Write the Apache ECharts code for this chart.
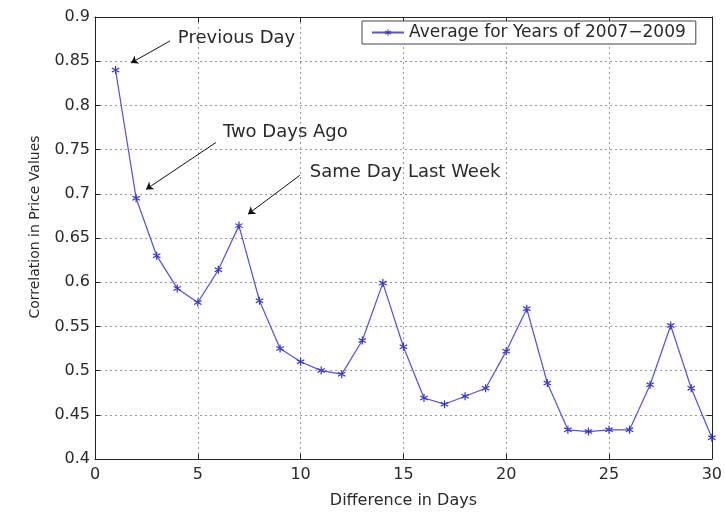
<!DOCTYPE html>
<html><head><meta charset="utf-8">
<script src="https://cdn.jsdelivr.net/npm/echarts@6/dist/echarts.min.js"></script>
<style>html,body{margin:0;padding:0;background:#fff}#c{width:725px;height:514px}</style>
</head><body><div id="c"></div>
<script>
const days = [1,2,3,4,5,6,7,8,9,10,11,12,13,14,15,16,17,18,19,20,21,22,23,24,25,26,27,28,29,30];
const corr = [0.840,0.695,0.630,0.593,0.577,0.614,0.664,0.579,0.525,0.510,0.500,0.496,0.534,0.599,0.527,0.469,0.462,0.471,0.480,0.522,0.570,0.486,0.433,0.431,0.433,0.433,0.484,0.551,0.480,0.424];
const yTicks = ['0.4','0.45','0.5','0.55','0.6','0.65','0.7','0.75','0.8','0.85','0.9'];
const xTicks = ['0','5','10','15','20','25','30'];
const seriesName = 'Average for Years of 2007\u22122009';
const annText = ['Previous Day','Two Days Ago','Same Day Last Week'];
const annTextPos = [[4.03,0.876],[6.22,0.770],[10.45,0.724]];
const annArrowFrom = [[3.65,0.873],[5.88,0.758],[9.97,0.721]];
const annArrowTo = [[1.75,0.848],[2.48,0.705],[7.44,0.677]];

const FONT = '"DejaVu Sans", sans-serif';
const blue = '#5252dc';
const star = 'path://M-0.7,-5L0.7,-5L0.7,5L-0.7,5Z M-4.68,-1.9L-3.98,-3.12L4.68,1.9L3.98,3.12Z M-4.68,1.9L-3.98,3.12L4.68,-1.9L3.98,-3.12Z';

const chart = echarts.init(document.getElementById('c'), null, {renderer:'canvas'});
const axisCommon = {
  axisLine:{show:true,onZero:false,lineStyle:{color:'#222',width:1}},
  axisTick:{show:true,inside:true,length:5,lineStyle:{color:'#222'}},
};
chart.setOption({
  animation:false,
  backgroundColor:'#fff',
  textStyle:{fontFamily:FONT},
  grid:{left:95,right:13,top:17,bottom:53},
  legend:{
    left:362, top:21, itemWidth:32, itemHeight:8, itemGap:5,
    padding:[3,10,3,9], borderColor:'#444', borderWidth:1, backgroundColor:'#fff',
    textStyle:{fontSize:17,color:'#2a2a2a',fontFamily:FONT},
    data:[{name:seriesName}]
  },
  xAxis:[{
    type:'value', min:0, max:30, interval:5, position:'bottom',
    name:'Difference in Days', nameLocation:'middle', nameGap:34,
    nameTextStyle:{fontSize:16,color:'#2a2a2a',fontFamily:FONT},
    ...axisCommon,
    axisLabel:{fontSize:16,color:'#2a2a2a',margin:8,fontFamily:FONT,formatter:(v)=>xTicks[v/5]},
    splitLine:{show:true,lineStyle:{color:'#999',type:[2,3],width:1}}
  },{
    type:'value', min:0, max:30, interval:5, position:'top',
    ...axisCommon, axisLabel:{show:false}, splitLine:{show:false}
  }],
  yAxis:[{
    type:'value', min:0.4, max:0.9, interval:0.05, position:'left',
    name:'Correlation in Price Values', nameLocation:'middle', nameGap:53,
    nameTextStyle:{fontSize:14,color:'#2a2a2a',fontFamily:FONT,padding:[0,0,0,22]},
    ...axisCommon,
    axisLabel:{fontSize:16,color:'#2a2a2a',margin:5,fontFamily:FONT,formatter:(v)=>yTicks[Math.round((v-0.4)/0.05)]},
    splitLine:{show:true,lineStyle:{color:'#999',type:[2,3],width:1}}
  },{
    type:'value', min:0.4, max:0.9, interval:0.05, position:'right',
    ...axisCommon, axisLabel:{show:false}, splitLine:{show:false}
  }],
  series:[{
    name:seriesName, type:'line',
    data:days.map((d,i)=>[d,corr[i]]),
    symbol:star, symbolSize:8,
    lineStyle:{color:blue,width:1.2},
    itemStyle:{color:'#3030c8'},
    emphasis:{disabled:true},
    markLine:{
      silent:true, animation:false,
      symbol:['none','arrow'], symbolSize:7,
      lineStyle:{color:'#111',width:1,type:'solid'},
      label:{show:false},
      data:annArrowFrom.map((f,i)=>[{coord:f},{coord:annArrowTo[i]}])
    },
    markPoint:{
      silent:true, animation:false,
      symbol:'circle', symbolSize:0,
      label:{show:true,position:'right',distance:0,fontSize:18,color:'#2a2a2a',fontFamily:FONT,formatter:(p)=>p.name},
      data:annText.map((t,i)=>({name:t,coord:annTextPos[i]}))
    }
  }]
});
</script></body></html>
